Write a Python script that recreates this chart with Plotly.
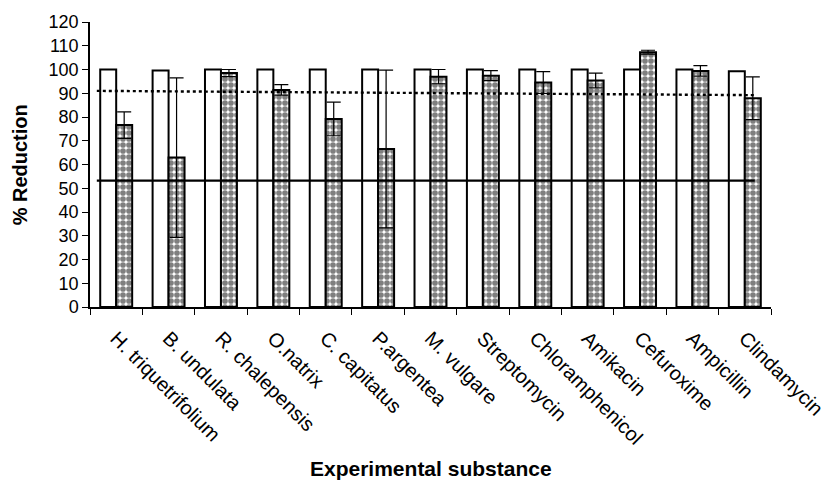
import plotly.graph_objects as go

categories = ["H. triquetrifolium", "B. undulata", "R. chalepensis", "O.natrix",
              "C. capitatus", "P.argentea", "M. vulgare", "Streptomycin",
              "Chloramphenicol", "Amikacin", "Cefuroxime", "Ampicillin", "Clindamycin"]
white_values = [100, 99.6, 100, 100, 100, 100, 100, 100, 100, 100, 100, 100, 99.3]
checked_values = [76.6, 62.9, 98.5, 91.4, 79.2, 66.5, 97.0, 97.4, 94.5, 95.4, 107.3, 99.4, 87.9]
checked_errors = [5.6, 33.6, 1.5, 2.2, 7.1, 33.2, 3.0, 2.1, 4.6, 3.1, 0.8, 2.2, 9.0]
solid_line_value = 53.2
dotted_line_start = 91.0
dotted_line_end = 89.2
y_ticks = list(range(0, 121, 10))

FONT = "Liberation Sans, Arial, sans-serif"

fig = go.Figure()
fig.add_trace(go.Bar(
    x=categories, y=white_values, name="control",
    marker=dict(color="white", line=dict(color="black", width=2)),
))
fig.add_trace(go.Bar(
    x=categories, y=checked_values, name="treated",
    marker=dict(color="white", line=dict(color="black", width=2),
                pattern=dict(shape=".", fgcolor="black", bgcolor="white",
                             size=6, solidity=0.7, fillmode="overlay")),
    error_y=dict(type="data", array=checked_errors, visible=True,
                 color="black", thickness=1.2, width=7),
))

n = len(categories)
fig.add_shape(type="line", xref="x", yref="y", x0=-0.37, x1=n - 0.81,
              y0=solid_line_value, y1=solid_line_value,
              line=dict(color="black", width=2.4))
fig.add_shape(type="line", xref="x", yref="y", x0=-0.37, x1=n - 0.81,
              y0=dotted_line_start, y1=dotted_line_end,
              line=dict(color="black", width=2.4, dash="dot"))

fig.add_annotation(text="<b>Experimental substance</b>", xref="paper", yref="paper",
                   x=0.5, y=-0.568, xanchor="center", yanchor="middle", showarrow=False,
                   font=dict(family=FONT, size=21, color="black"))
fig.add_annotation(text="<b>% Reduction</b>", xref="paper", yref="paper",
                   x=-0.103, y=0.5, xanchor="center", yanchor="middle", showarrow=False,
                   textangle=-90, font=dict(family=FONT, size=20, color="black"))

# page has an 8px body margin, so the figure is sized to fit the window
fig.update_layout(
    width=826, height=472,
    margin=dict(l=82, r=63, t=14, b=173, autoexpand=False),
    paper_bgcolor="white", plot_bgcolor="white",
    barmode="group", bargap=0.39, bargroupgap=0,
    showlegend=False,
    font=dict(family=FONT, color="black", size=16),
)
fig.update_xaxes(
    type="category", tickson="boundaries", ticks="outside", ticklen=6,
    tickcolor="black", tickwidth=1.2, automargin=False,
    showline=True, linecolor="black", linewidth=1.5,
    showgrid=False, tickangle=45, ticklabelstandoff=10,
    tickfont=dict(family=FONT, size=20, color="black"),
)
fig.update_yaxes(
    range=[0, 120], tickvals=y_ticks, ticks="outside", ticklen=6,
    tickcolor="black", tickwidth=1.2, automargin=False,
    showline=True, linecolor="black", linewidth=1.5,
    showgrid=False, zeroline=False,
    tickfont=dict(family=FONT, size=18, color="black"),
)

fig.write_html("out.html")
